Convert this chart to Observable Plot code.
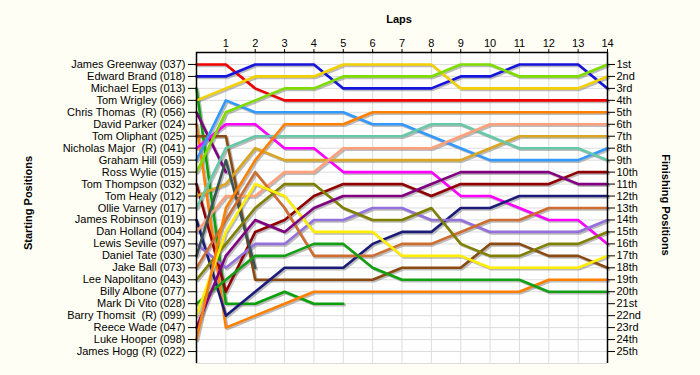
<!DOCTYPE html>
<html><head><meta charset="utf-8">
<script src="https://cdn.jsdelivr.net/npm/d3@7"></script>
<script src="https://cdn.jsdelivr.net/npm/@observablehq/plot@0.6"></script>
<style>
html,body{margin:0;padding:0;background:#fffef4;}
#chart{width:700px;height:375px;}
</style></head><body><div id="chart"></div>
<script>
// Starting grid (row order)
const drivers = [
  "James Greenway (037)", "Edward Brand (018)", "Michael Epps (013)", "Tom Wrigley (066)",
  "Chris Thomas  (R) (056)", "David Parker (024)", "Tom Oliphant (025)", "Nicholas Major  (R) (041)",
  "Graham Hill (059)", "Ross Wylie (015)", "Tom Thompson (032)", "Tom Healy (012)",
  "Ollie Varney (017)", "James Robinson (019)", "Dan Holland (004)", "Lewis Seville (097)",
  "Daniel Tate (030)", "Jake Ball (073)", "Lee Napolitano (043)", "Billy Albone (077)",
  "Mark Di Vito (028)", "Barry Thomsit  (R) (099)", "Reece Wade (047)", "Luke Hooper (098)",
  "James Hogg (R) (022)"
];
const driverColors = [
  "#f00000", "#1414dc", "#0aa00a", "#f2d000",
  "#800080", "#ff7f00", "#8b4a10", "#ff00ff",
  "#3399ff", "#7fdc00", "#900000", "#daa520",
  "#66c8a8", "#1c1c78", "#ffa07a", "#9370db",
  "#3a5454", "#cd6e30", "#808000", "#999999",
  "#14a014", "#ffee00", "#800080", "#ff8000",
  "#999999"
];
// Position at lap 0..14 (index = lap)
const lapPositions = [
  [1,1,3,4,4,4,4,4,4,4,4,4,4,4,4],
  [2,2,1,1,1,3,3,3,3,2,2,1,1,1,3],
  [3,21,21,20,21,21],
  [4,3,2,2,2,1,1,1,1,3,3,3,3,3,2],
  [5,10],
  [6,23,22,21,20,20,20,20,20,20,20,20,19,19,19],
  [7,7,19,19,19,19,19,18,18,18,16,16,17,17,18],
  [8,6,6,8,8,10,10,10,10,12,12,13,14,14,16],
  [9,4,5,5,5,5,6,6,7,8,9,9,9,9,8],
  [10,5,4,3,3,2,2,2,2,1,1,2,2,2,1],
  [11,20,15,14,12,11,11,11,12,11,11,11,11,10,10],
  [12,11,8,9,9,9,9,9,9,9,8,7,7,7,7],
  [13,8,7,7,7,7,7,7,6,6,7,8,8,8,9],
  [14,22,20,18,18,18,16,15,15,13,13,12,12,12,12],
  [15,12,12,10,10,8,8,8,8,7,6,6,6,6,6],
  [16,18,16,16,14,14,13,13,14,14,15,15,15,15,14],
  [17,9,18],
  [18,14,10,13,17,17,17,16,16,15,14,14,13,13,13],
  [19,16,13,11,11,13,14,14,13,16,17,17,16,16,15],
  [],
  [21,19,17,17,16,16,18,19,19,19,19,19,20,20,20],
  [22,15,11,12,15,15,15,17,17,17,18,18,18,18,17],
  [23,17,14,15,13,12,12,12,11,10,10,10,10,11,11],
  [24,13,9,6,6,6,5,5,5,5,5,5,5,5,5],
  []
];
const lapTicks = [1,2,3,4,5,6,7,8,9,10,11,12,13,14];
const rowTicks = [1,2,3,4,5,6,7,8,9,10,11,12,13,14,15,16,17,18,19,20,21,22,23,24,25];
const gridRowTicks = [1,2,3,4,5,6,7,8,9,10,11,12,13,14,15,16,17,18,19,20,21,22,23,24,25,26];
const finishLabels = ["1st","2nd","3rd","4th","5th","6th","7th","8th","9th","10th","11th","12th","13th",
  "14th","15th","16th","17th","18th","19th","20th","21st","22nd","23rd","24th","25th"];

const rows = [];
drivers.forEach((name, i) => lapPositions[i].forEach((p, lap) =>
  rows.push({driver: name, color: driverColors[i], lap, pos: p})));

const plot = Plot.plot({
  width: 700, height: 375,
  marginLeft: 196, marginRight: 93, marginTop: 52, marginBottom: 12,
  style: {background: "transparent", fontFamily: "'Liberation Sans', Arial, sans-serif", fontSize: "11px", color: "#000", overflow: "visible"},
  x: {domain: [0, 14]},
  y: {domain: [0, 26], reverse: true},
  color: {type: "identity"},
  marks: [
    Plot.frame({fill: "white", stroke: null}),
    Plot.gridX({ticks: lapTicks, stroke: "#dcdcdc", strokeOpacity: 1}),
    Plot.gridY({ticks: gridRowTicks, stroke: "#dcdcdc", strokeOpacity: 1}),
    Plot.line(rows, {x: "lap", y: "pos", z: "driver", stroke: "#7a7a7a", strokeOpacity: 0.5, strokeWidth: 2.6, dx: 1.5, dy: 1.5, strokeLinejoin: "round"}),
    Plot.line(rows, {x: "lap", y: "pos", z: "driver", stroke: "color", strokeWidth: 2.6, strokeLinejoin: "round"}),
    Plot.axisX({anchor: "top", ticks: lapTicks, tickSize: 4, tickPadding: 2, label: null}),
    Plot.axisY({anchor: "left", ticks: rowTicks, tickFormat: d => drivers[d - 1], tickSize: 8, tickPadding: 3, label: null}),
    Plot.axisY({anchor: "right", ticks: rowTicks, tickFormat: d => finishLabels[d - 1], tickSize: 7, tickPadding: 2, label: null}),
    Plot.ruleX([0, 14], {stroke: "black", strokeWidth: 1.5}),
    Plot.ruleY([0], {stroke: "black", strokeWidth: 1.5})
  ]
});

const svg = d3.select(plot);
const titleStyle = t => t.attr("font-weight", "bold").attr("font-size", "11px")
  .attr("font-family", "'Liberation Sans', Arial, sans-serif").attr("fill", "black").attr("text-anchor", "middle");
svg.append("text").text("Laps").attr("x", 399).attr("y", 23).call(titleStyle);
svg.append("text").text("Starting Positions").attr("transform", "translate(32,203) rotate(-90)").call(titleStyle);
svg.append("text").text("Finishing Positions").attr("transform", "translate(662,205) rotate(90)").call(titleStyle);

document.getElementById("chart").appendChild(plot);
</script>
</body></html>
